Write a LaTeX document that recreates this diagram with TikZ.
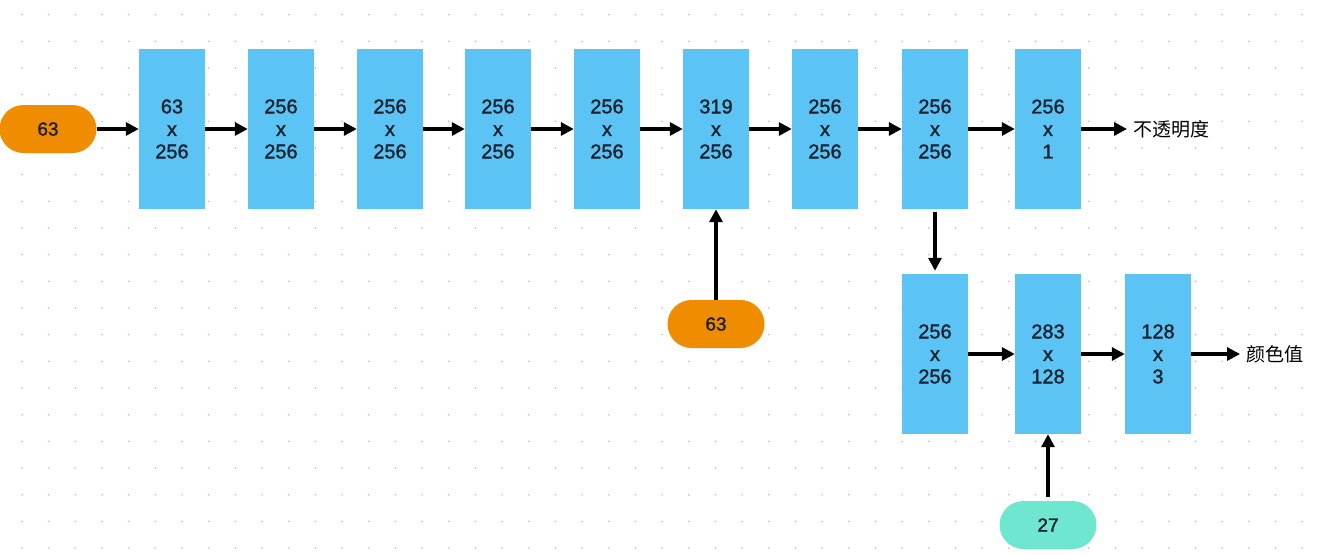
\documentclass[tikz,border=0pt]{standalone}
\usepackage{fontspec}
\setmainfont{Noto Sans CJK SC}
\newfontfamily\numfont{Liberation Sans}[FakeBold=1.4]
\usetikzlibrary{arrows.meta}
\definecolor{boxblue}{HTML}{5BC4F5}
\definecolor{inorange}{HTML}{F08C00}
\definecolor{inteal}{HTML}{6EE6D0}
\definecolor{ink}{HTML}{1B2230}
\tikzset{>={Triangle[length=13pt,width=13pt]}}
\tikzset{layer/.style={rectangle,fill=boxblue,minimum width=66pt,minimum height=160pt,
    inner sep=0pt,align=center,text=ink,font=\numfont\fontsize{20}{22.5}\selectfont}}
\tikzset{pill/.style={rectangle,rounded corners=24pt,minimum width=97pt,minimum height=48pt,
    inner sep=0pt,text=ink,font=\numfont\fontsize{19}{22}\selectfont}}
\tikzset{link/.style={->,line width=3.2pt}}
\tikzset{outlabel/.style={anchor=west,inner sep=6pt,font=\fontsize{19}{22}\selectfont}}

\begin{document}
\begin{tikzpicture}[x=1pt,y=-1pt]
        \useasboundingbox (0,0) rectangle (1324,554);
        % canvas dots
        \foreach \i in {0,...,49}
          \foreach \j in {0,...,20}
            \fill[black!22] (22+26.67*\i,14.7+26.67*\j) circle (1pt);
        % upper row
        \node[layer] (a1) at (172,129) {63\\x\\256};
        \node[layer] (a2) at (281,129) {256\\x\\256};
        \node[layer] (a3) at (390,129) {256\\x\\256};
        \node[layer] (a4) at (498,129) {256\\x\\256};
        \node[layer] (a5) at (607,129) {256\\x\\256};
        \node[layer] (a6) at (716,129) {319\\x\\256};
        \node[layer] (a7) at (825,129) {256\\x\\256};
        \node[layer] (a8) at (935,129) {256\\x\\256};
        \node[layer] (a9) at (1048,129) {256\\x\\1};
        \node[outlabel] (opa) at (1127,129) {不透明度};
        % lower row
        \node[layer] (b1) at (935,354) {256\\x\\256};
        \node[layer] (b2) at (1048,354) {283\\x\\128};
        \node[layer] (b3) at (1158,354) {128\\x\\3};
        \node[outlabel] (rgb) at (1240,354) {颜色值};
        % inputs
        \node[pill,fill=inorange] (p1) at (48,129) {63};
        \node[pill,fill=inorange] (p2) at (716,324) {63};
        \node[pill,fill=inteal] (d) at (1048,525) {27};
        % connectors
        \draw[link] (p1) -- (a1);
        \draw[link] (a1) -- (a2);
        \draw[link] (a2) -- (a3);
        \draw[link] (a3) -- (a4);
        \draw[link] (a4) -- (a5);
        \draw[link] (a5) -- (a6);
        \draw[link] (a6) -- (a7);
        \draw[link] (a7) -- (a8);
        \draw[link] (a8) -- (a9);
        \draw[link] (a9) -- (opa);
        \draw[link] (p2) -- (a6);
        \draw[link,shorten <=3pt,shorten >=3pt] (a8) -- (b1);
        \draw[link] (b1) -- (b2);
        \draw[link] (b2) -- (b3);
        \draw[link] (b3) -- (rgb);
        \draw[link,shorten <=4pt] (d) -- (b2);
      \end{tikzpicture}
\end{document}
